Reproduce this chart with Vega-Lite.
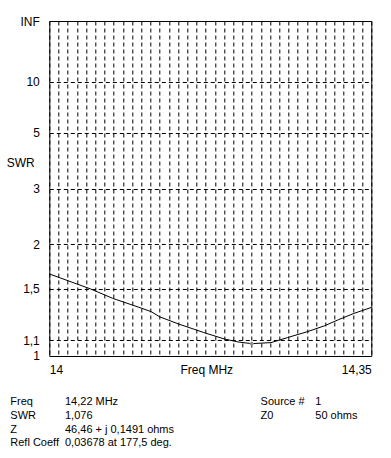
{
  "$schema": "https://vega.github.io/schema/vega-lite/v6.json",
  "background": "white",
  "padding": {"left": 5.3, "top": 14, "right": 0, "bottom": 5},
  "config": {"view": {"stroke": null}, "font": "Liberation Sans"},
  "datasets": {
    "curve": [
      {"freq": 14.000, "refl": 0.245},
      {"freq": 14.045, "refl": 0.200},
      {"freq": 14.069, "refl": 0.172},
      {"freq": 14.100, "refl": 0.143},
      {"freq": 14.111, "refl": 0.132},
      {"freq": 14.120, "refl": 0.117},
      {"freq": 14.140, "refl": 0.096},
      {"freq": 14.168, "refl": 0.070},
      {"freq": 14.190, "refl": 0.051},
      {"freq": 14.205, "refl": 0.042},
      {"freq": 14.220, "refl": 0.0368},
      {"freq": 14.241, "refl": 0.040},
      {"freq": 14.259, "refl": 0.055},
      {"freq": 14.281, "refl": 0.073},
      {"freq": 14.299, "refl": 0.090},
      {"freq": 14.314, "refl": 0.108},
      {"freq": 14.331, "refl": 0.127},
      {"freq": 14.350, "refl": 0.145}
    ],
    "marker": [{"freq": 14.22, "refl": 0.03678}],
    "info_left": [
      {"row": 1, "col": "name", "text": "Freq"},
      {"row": 1, "col": "value", "text": "14,22 MHz"},
      {"row": 2, "col": "name", "text": "SWR"},
      {"row": 2, "col": "value", "text": "1,076"},
      {"row": 3, "col": "name", "text": "Z"},
      {"row": 3, "col": "value", "text": "46,46 + j 0,1491 ohms"},
      {"row": 4, "col": "name", "text": "Refl Coeff"},
      {"row": 4, "col": "value", "text": "0,03678 at 177,5 deg."}
    ],
    "info_right": [
      {"row": 1, "col": "name", "text": "Source #"},
      {"row": 1, "col": "value", "text": "1"},
      {"row": 2, "col": "name", "text": "Z0"},
      {"row": 2, "col": "value", "text": "50 ohms"}
    ]
  },
  "columns": 1,
  "spacing": 18.5,
  "concat": [
    {
      "width": 322,
      "height": 335,
      "view": {"stroke": "black", "strokeWidth": 1},
      "layer": [
        {
          "data": {"name": "curve"},
          "mark": {"type": "line", "color": "black", "strokeWidth": 1},
          "encoding": {
            "x": {
              "field": "freq", "type": "quantitative",
              "scale": {"domain": [14, 14.35], "nice": false, "zero": false},
              "axis": {
                "values": [14, 14.01, 14.02, 14.03, 14.04, 14.05, 14.06, 14.07, 14.08, 14.09, 14.1, 14.11, 14.12, 14.13, 14.14, 14.15, 14.16, 14.17, 14.18, 14.19, 14.2, 14.21, 14.22, 14.23, 14.24, 14.25, 14.26, 14.27, 14.28, 14.29, 14.3, 14.31, 14.32, 14.33, 14.34, 14.35],
                "tickCount": 200,
                "grid": true, "gridDash": [4, 3], "gridColor": "black", "gridOpacity": 1, "gridWidth": 1,
                "domain": false, "ticks": false,
                "labelExpr": "datum.value < 14.001 ? '14' : (datum.value > 14.349 ? '14,35' : '')",
                "labelFlush": true, "labelOverlap": false, "labelBound": false,
                "labelPadding": 9, "labelFontSize": 12, "labelColor": "black", "labelBaseline": "top",
                "title": "Freq MHz", "titleFontSize": 12, "titleFontWeight": "normal", "titleColor": "black",
                "titleX": 157, "titleY": 9, "titleAlign": "center", "titleBaseline": "top"
              }
            },
            "y": {
              "field": "refl", "type": "quantitative",
              "scale": {"domain": [0, 1], "nice": false, "zero": false},
              "axis": {
                "values": [0, 0.047619, 0.2, 0.333333, 0.5, 0.666667, 0.818182, 1],
                "tickCount": 200,
                "grid": true, "gridDash": [4, 3], "gridColor": "black", "gridOpacity": 1, "gridWidth": 1,
                "domain": false, "ticks": false,
                "labelExpr": "datum.value < 0.01 ? '1' : datum.value < 0.1 ? '1,1' : datum.value < 0.25 ? '1,5' : datum.value < 0.4 ? '2' : datum.value < 0.6 ? '3' : datum.value < 0.75 ? '5' : datum.value < 0.9 ? '10' : 'INF'",
                "labelOverlap": false, "labelBound": false, "labelFlush": false,
                "labelPadding": 10, "labelFontSize": 12, "labelColor": "black", "labelBaseline": "middle",
                "title": "SWR", "titleAngle": 0, "titleX": -43, "titleY": 141, "titleAlign": "left", "titleBaseline": "middle",
                "titleFontSize": 12, "titleFontWeight": "normal", "titleColor": "black"
              }
            }
          }
        },
        {
          "data": {"name": "marker"},
          "mark": {"type": "point", "shape": "diamond", "filled": true, "color": "#8a8a8a", "size": 22, "opacity": 1},
          "encoding": {
            "x": {"field": "freq", "type": "quantitative"},
            "y": {"field": "refl", "type": "quantitative"}
          }
        }
      ]
    },
    {
      "hconcat": [
        {
          "data": {"name": "info_left"},
          "width": 54.7,
          "height": 54.7,
          "mark": {"type": "text", "align": "left", "baseline": "middle", "fontSize": 11, "color": "black", "dx": -39},
          "encoding": {
            "x": {"field": "col", "type": "nominal", "scale": {"type": "point", "domain": ["name", "value"], "padding": 0}, "axis": null},
            "y": {"field": "row", "type": "ordinal", "scale": {"type": "point", "domain": [1, 2, 3, 4], "padding": 0.5}, "axis": null},
            "text": {"field": "text"}
          }
        },
        {
          "data": {"name": "info_right"},
          "width": 54.7,
          "height": 54.7,
          "mark": {"type": "text", "align": "left", "baseline": "middle", "fontSize": 11, "color": "black", "dx": -39},
          "encoding": {
            "x": {"field": "col", "type": "nominal", "scale": {"type": "point", "domain": ["name", "value"], "padding": 0}, "axis": null},
            "y": {"field": "row", "type": "ordinal", "scale": {"type": "point", "domain": [1, 2, 3, 4], "padding": 0.5}, "axis": null},
            "text": {"field": "text"}
          }
        }
      ],
      "spacing": 195.3,
      "bounds": "flush",
      "resolve": {"scale": {"x": "independent", "y": "independent"}}
    }
  ]
}
